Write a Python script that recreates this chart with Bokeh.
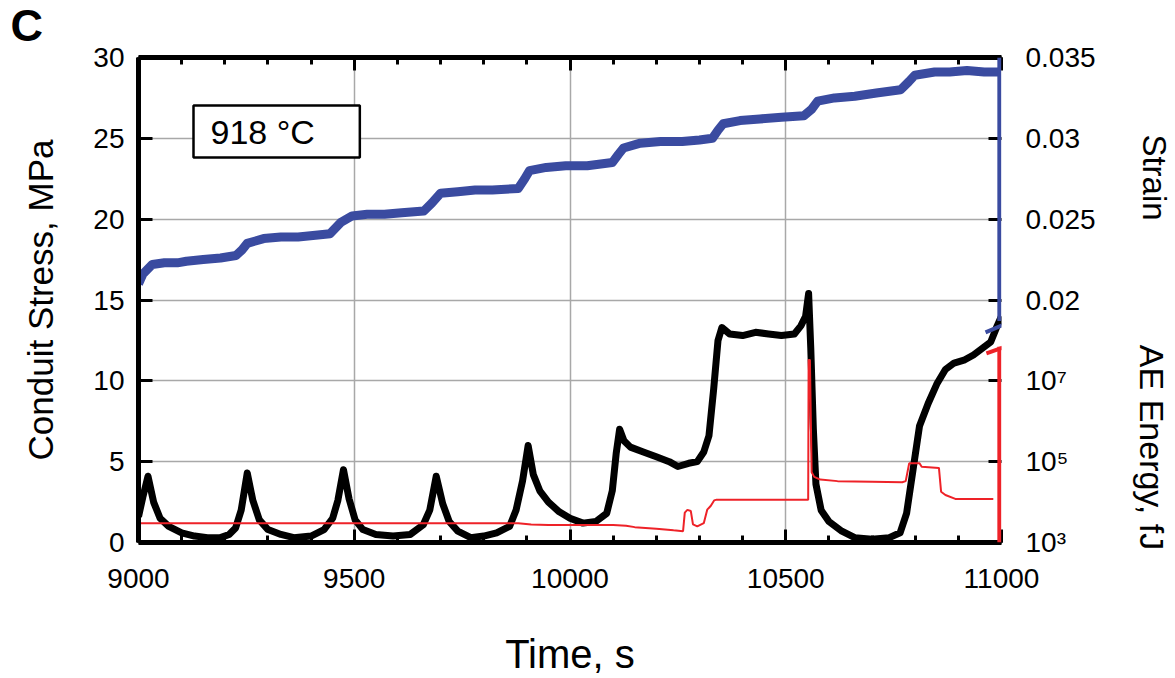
import math
from bokeh.plotting import figure
from bokeh.models import (Range1d, LinearAxis, LogScale, FixedTicker, SingleIntervalTicker,
                          Label, Arrow)
from bokeh.embed import file_html
from bokeh.resources import INLINE

# ---------------- data ----------------
time_stress = [9000, 9010, 9022, 9035, 9050, 9070, 9100, 9130, 9160, 9190, 9210, 9225, 9238, 9252,
               9265, 9280, 9300, 9330, 9360, 9400, 9430, 9450, 9462, 9475, 9488, 9502, 9520, 9550,
               9590, 9630, 9660, 9675, 9690, 9705, 9720, 9740, 9770, 9800, 9830, 9860, 9875, 9890,
               9903, 9915, 9930, 9950, 9975, 10000, 10030, 10060, 10085, 10098, 10107, 10115, 10125,
               10140, 10170, 10200, 10230, 10250, 10275, 10295, 10310, 10322, 10333, 10343, 10352,
               10370, 10400, 10430, 10460, 10490, 10520, 10535, 10546, 10553, 10558, 10564, 10570,
               10582, 10600, 10630, 10660, 10700, 10740, 10765, 10780, 10795, 10810, 10830, 10850,
               10870, 10890, 10915, 10935, 10955, 10975, 10990, 11000]
stress = [1.6, 2.8, 4.1, 2.5, 1.5, 1.0, 0.6, 0.4, 0.3, 0.3, 0.5, 0.9, 2.0, 4.3,
          2.6, 1.4, 0.8, 0.5, 0.3, 0.4, 0.8, 1.5, 2.6, 4.5, 2.7, 1.4, 0.8, 0.5,
          0.4, 0.5, 1.1, 2.0, 4.1, 2.4, 1.3, 0.7, 0.3, 0.4, 0.6, 1.0, 2.0, 3.8,
          6.0, 4.2, 3.2, 2.5, 1.9, 1.5, 1.2, 1.3, 1.8, 3.2, 5.5, 7.0, 6.3,
          5.9, 5.6, 5.3, 5.0, 4.7, 4.9, 5.0, 5.6, 6.6, 9.5, 12.5, 13.3,
          12.9, 12.8, 13.0, 12.9, 12.8, 12.9, 13.4, 14.0, 15.4, 12.0, 7.0, 3.6,
          2.0, 1.3, 0.7, 0.3, 0.2, 0.3, 0.6, 1.8, 4.5, 7.2, 8.6, 9.8,
          10.7, 11.1, 11.3, 11.6, 12.0, 12.4, 13.4, 14.0]

time_strain = [9000, 9010, 9032, 9060, 9090, 9111, 9150, 9190, 9226, 9240, 9252, 9290, 9330, 9370,
               9410, 9444, 9469, 9495, 9530, 9570, 9610, 9661, 9680, 9700, 9740, 9780, 9820, 9880,
               9895, 9906, 9945, 9990, 10040, 10098, 10112, 10124, 10163, 10210, 10260, 10300, 10330,
               10343, 10355, 10394, 10440, 10490, 10542, 10560, 10574, 10613, 10660, 10710, 10766,
               10785, 10799, 10845, 10880, 10920, 10960, 10995]
strain = [0.0210, 0.0216, 0.0222, 0.0223, 0.0223, 0.0224, 0.0225, 0.0226, 0.02275, 0.0231, 0.0235,
          0.0238, 0.0239, 0.0239, 0.0240, 0.0241, 0.0248, 0.0252, 0.0253, 0.0253, 0.0254, 0.0255,
          0.0260, 0.0266, 0.0267, 0.0268, 0.0268, 0.0269, 0.0275, 0.0280, 0.0282, 0.0283, 0.0283,
          0.0285, 0.0290, 0.0294, 0.0297, 0.0298, 0.0298, 0.0299, 0.0300, 0.0305, 0.0309, 0.0311,
          0.0312, 0.0313, 0.0314, 0.0318, 0.0323, 0.0325, 0.0326, 0.0328, 0.0330, 0.0335, 0.0339,
          0.0341, 0.0341, 0.0342, 0.0341, 0.0341]

time_ae = [9000, 9880, 9910, 9950, 10100, 10130, 10150, 10200, 10240, 10262, 10266, 10272, 10280,
           10285, 10295, 10310, 10318, 10326, 10334, 10340, 10552, 10553, 10556, 10560, 10566,
           10580, 10620, 10700, 10770, 10778, 10786, 10810, 10815, 10855, 10860, 10870, 10893, 10981]
ae_energy = [3.0e3, 3.0e3, 2.8e3, 2.7e3, 2.7e3, 2.6e3, 2.4e3, 2.2e3, 2.0e3, 1.9e3, 5.5e3, 6.4e3, 6.0e3,
             2.8e3, 2.5e3, 3.0e3, 6.5e3, 8.0e3, 1.1e4, 1.15e4, 1.15e4, 3.3e7, 3.3e7, 5.5e4, 4.2e4,
             3.6e4, 3.3e4, 3.2e4, 3.1e4, 3.3e4, 9.1e4, 9.1e4, 7.5e4, 7.0e4, 1.8e4, 1.5e4, 1.2e4, 1.2e4]

x_ticks = [9000, 9500, 10000, 10500, 11000]
stress_ticks = [0, 5, 10, 15, 20, 25, 30]
right_tick_labels = ["10³", "10⁵", "10⁷", "0.02", "0.025", "0.03", "0.035"]

# right-axis decoration (blue strain part, red AE part, with break marks)
axis_x = 10995
strain_axis_span = [0.0187, 0.035]
strain_break = [10963, 0.0180, 11030, 0.01875]
ae_axis_span = [1e3, 7.0e7]
ae_break = [10965, 4.8e7, 11030, 8.3e7]

BLUE = "#3A4BA0"
RED = "#EE2228"
FONT = "Liberation Sans"

# ---------------- figure ----------------
p = figure(width=1175, height=678, output_backend="svg", toolbar_location=None,
           x_range=Range1d(9000, 11000), y_range=Range1d(0, 30),
           min_border_left=138, min_border_right=174, min_border_top=57, min_border_bottom=136)
p.extra_y_ranges = {"strain": Range1d(0.005, 0.035), "ae": Range1d(1e3, 1e15)}
p.extra_y_scales = {"ae": LogScale()}
p.outline_line_color = None
p.background_fill_color = "white"
p.border_fill_color = "white"

# grids
p.xgrid.ticker = FixedTicker(ticks=x_ticks)
p.ygrid.ticker = FixedTicker(ticks=stress_ticks)
for g in (p.xgrid, p.ygrid):
    g.grid_line_color = "#a8a8a8"
    g.grid_line_width = 1.5

def style_x(ax):
    ax.ticker = SingleIntervalTicker(interval=500, num_minor_ticks=5)
    ax.axis_line_width = 5
    ax.major_tick_in = 13
    ax.major_tick_out = 0
    ax.minor_tick_in = 7
    ax.minor_tick_out = 0
    ax.major_tick_line_width = 3
    ax.minor_tick_line_width = 3
    ax.major_label_text_font = FONT
    ax.major_label_text_font_size = "28px"
    ax.major_label_text_color = "black"

xa = p.xaxis[0]
style_x(xa)
xa.major_label_standoff = 26
xa.axis_label = "Time, s"
xa.axis_label_text_font = FONT
xa.axis_label_text_font_size = "40px"
xa.axis_label_text_font_style = "normal"
xa.axis_label_text_color = "black"
xa.axis_label_standoff = 41

top = LinearAxis()
style_x(top)
top.major_label_text_color = None
top.major_label_text_font_size = "0px"
top.major_label_standoff = 0
p.add_layout(top, "above")

ya = p.yaxis[0]
ya.ticker = FixedTicker(ticks=stress_ticks)
ya.axis_line_width = 5
ya.major_tick_in = 14
ya.major_tick_out = 0
ya.minor_tick_line_color = None
ya.major_tick_line_width = 3
ya.major_label_text_font = FONT
ya.major_label_text_font_size = "28px"
ya.major_label_text_color = "black"
ya.major_label_standoff = 14
ya.axis_label = "Conduit Stress, MPa"
ya.axis_label_text_font = FONT
ya.axis_label_text_font_size = "35px"
ya.axis_label_text_font_style = "normal"
ya.axis_label_text_color = "black"
ya.axis_label_standoff = 30

ra = LinearAxis(ticker=FixedTicker(ticks=stress_ticks),
                major_label_overrides={t: s for t, s in zip(stress_ticks, right_tick_labels)})
ra.axis_line_color = None
ra.major_tick_in = 13
ra.major_tick_out = 0
ra.minor_tick_line_color = None
ra.major_tick_line_width = 3
ra.major_label_text_font = FONT
ra.major_label_text_font_size = "28px"
ra.major_label_text_color = "black"
ra.major_label_standoff = 24
p.add_layout(ra, "right")

# ---------------- series ----------------
p.line(time_stress, stress, line_color="black", line_width=7, line_join="round")
p.line(time_strain, strain, y_range_name="strain", line_color=BLUE, line_width=9, line_join="round")
p.line(time_ae, ae_energy, y_range_name="ae", line_color=RED, line_width=2)

# right axis lines + break marks
p.add_layout(Arrow(start=None, end=None, x_start=axis_x, x_end=axis_x,
                   y_start=strain_axis_span[0], y_end=strain_axis_span[1],
                   y_range_name="strain", line_color=BLUE, line_width=4))
p.add_layout(Arrow(start=None, end=None, x_start=strain_break[0], y_start=strain_break[1],
                   x_end=strain_break[2], y_end=strain_break[3],
                   y_range_name="strain", line_color=BLUE, line_width=4))
p.add_layout(Arrow(start=None, end=None, x_start=axis_x, x_end=axis_x,
                   y_start=ae_axis_span[0], y_end=ae_axis_span[1],
                   y_range_name="ae", line_color=RED, line_width=4))
p.add_layout(Arrow(start=None, end=None, x_start=ae_break[0], y_start=ae_break[1],
                   x_end=ae_break[2], y_end=ae_break[3],
                   y_range_name="ae", line_color=RED, line_width=4))

# ---------------- texts ----------------
p.add_layout(Label(x=55, y=411, x_units="screen", y_units="screen", text="918 °C",
                   text_font=FONT, text_font_size="34px", text_baseline="middle",
                   text_align="left", text_color="black", border_line_color="black",
                   border_line_width=2.5, background_fill_color="white",
                   padding=dict(left=17, right=45, top=7, bottom=7)))
p.add_layout(Label(x=-128, y=58, x_units="screen", y_units="screen", text="C",
                   text_font=FONT, text_font_size="45px", text_font_style="bold",
                   text_color="black", text_baseline="top", text_align="left"), "above")
p.add_layout(Label(x=56, y=365, x_units="screen", y_units="screen", text="Strain",
                   text_font=FONT, text_font_size="33px", angle=-math.pi / 2, text_color="black",
                   text_baseline="middle", text_align="center"), "right")
p.add_layout(Label(x=16, y=95, x_units="screen", y_units="screen",
                   text="AE Energy, fJ", text_font=FONT, text_font_size="34px", text_color="black",
                   angle=-math.pi / 2, text_baseline="middle", text_align="center"), "right")

open("out.html", "w").write(file_html(p, INLINE))
